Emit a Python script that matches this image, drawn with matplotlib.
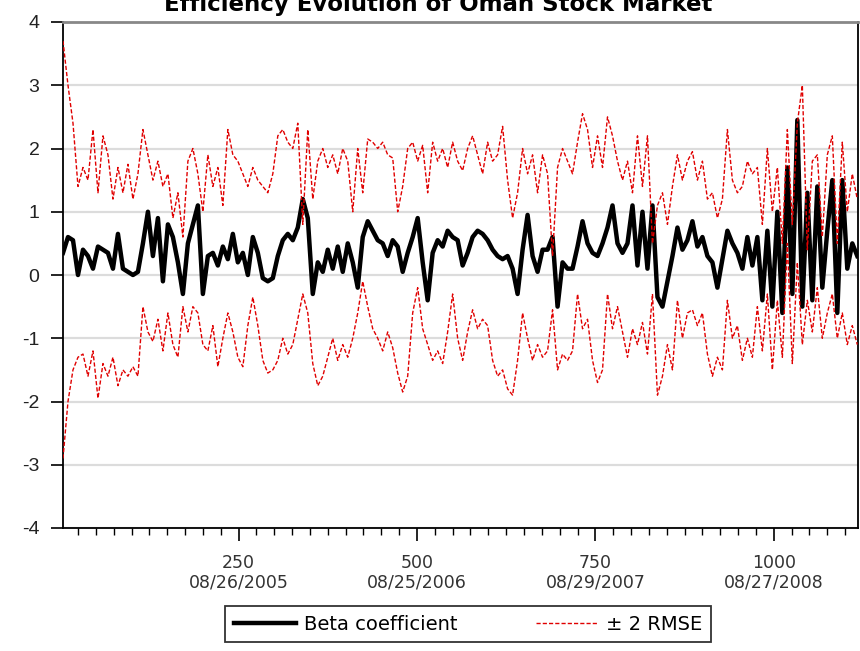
import numpy as np
import matplotlib.pyplot as plt
from matplotlib.ticker import MultipleLocator, FixedLocator

plt.rcParams['font.family'] = ['DejaVu Sans']
plt.rcParams['axes.unicode_minus'] = False

# observation number of the first sample and spacing between samples
start_obs = 4
step_obs = 7

# beta coefficient (black line)
beta = [0.35, 0.6, 0.55, 0.0, 0.4, 0.3, 0.1, 0.45, 0.4, 0.35,
        0.1, 0.65, 0.1, 0.05, 0.0, 0.05, 0.5, 1.0, 0.3, 0.9,
        -0.1, 0.8, 0.6, 0.2, -0.3, 0.5, 0.8, 1.1, -0.3, 0.3,
        0.35, 0.15, 0.45, 0.25, 0.65, 0.2, 0.35, 0.0, 0.6, 0.35,
        -0.05, -0.1, -0.05, 0.3, 0.55, 0.65, 0.55, 0.75, 1.2, 0.9,
        -0.3, 0.2, 0.05, 0.4, 0.1, 0.45, 0.05, 0.5, 0.2, -0.2,
        0.6, 0.85, 0.7, 0.55, 0.5, 0.3, 0.55, 0.45, 0.05, 0.35,
        0.6, 0.9, 0.2, -0.4, 0.35, 0.55, 0.45, 0.7, 0.6, 0.55,
        0.15, 0.35, 0.6, 0.7, 0.65, 0.55, 0.4, 0.3, 0.25, 0.3,
        0.1, -0.3, 0.4, 0.95, 0.3, 0.05, 0.4, 0.4, 0.6, -0.5,
        0.2, 0.1, 0.1, 0.45, 0.85, 0.5, 0.35, 0.3, 0.5, 0.75,
        1.1, 0.5, 0.35, 0.5, 1.1, 0.15, 1.0, 0.1, 1.1, -0.35,
        -0.5, -0.1, 0.3, 0.75, 0.4, 0.55, 0.85, 0.45, 0.6, 0.3,
        0.2, -0.2, 0.25, 0.7, 0.5, 0.35, 0.1, 0.6, 0.15, 0.6,
        -0.4, 0.7, -0.5, 1.0, -0.6, 1.7, -0.3, 2.45, -0.5, 1.3,
        -0.4, 1.4, -0.2, 0.7, 1.5, -0.6, 1.5, 0.1, 0.5, 0.3]

# beta + 2 RMSE (upper red dashed)
upper = [3.7, 3.0, 2.4, 1.4, 1.7, 1.5, 2.3, 1.3, 2.2, 1.9,
         1.2, 1.7, 1.3, 1.75, 1.2, 1.6, 2.3, 1.9, 1.5, 1.8,
         1.4, 1.6, 0.9, 1.3, 0.6, 1.8, 2.0, 1.6, 1.0, 1.9,
         1.4, 1.7, 1.1, 2.3, 1.9, 1.8, 1.6, 1.4, 1.7, 1.5,
         1.4, 1.3, 1.6, 2.2, 2.3, 2.1, 2.0, 2.4, 0.8, 2.3,
         1.2, 1.8, 2.0, 1.7, 1.9, 1.6, 2.0, 1.8, 1.0, 2.0,
         1.3, 2.15, 2.1, 2.0, 2.1, 1.9, 1.85, 1.0, 1.4, 2.0,
         2.1, 1.8, 2.05, 1.3, 2.1, 1.8, 2.0, 1.7, 2.1, 1.8,
         1.65, 2.0, 2.2, 1.9, 1.6, 2.1, 1.8, 1.9, 2.35, 1.5,
         0.9, 1.3, 2.0, 1.6, 1.9, 1.3, 1.9, 1.6, 0.3, 1.7,
         2.0, 1.8, 1.6, 2.1, 2.55, 2.3, 1.7, 2.2, 1.7, 2.5,
         2.2, 1.8, 1.5, 1.8, 1.3, 2.2, 1.4, 2.2, 0.5, 1.1,
         1.3, 0.8, 1.4, 1.9, 1.5, 1.8, 1.95, 1.5, 1.8, 1.2,
         1.3, 0.9, 1.2, 2.3, 1.5, 1.3, 1.4, 1.8, 1.6, 1.7,
         0.8, 2.0, 1.0, 1.7, 0.5, 2.3, 0.8, 2.4, 3.0, 0.4,
         1.8, 1.9, 0.6, 1.9, 2.2, 0.5, 2.1, 1.0, 1.6, 1.2]

# beta - 2 RMSE (lower red dashed)
lower = [-2.9, -2.0, -1.5, -1.3, -1.25, -1.6, -1.2, -1.95, -1.4, -1.6,
         -1.3, -1.75, -1.5, -1.6, -1.45, -1.6, -0.5, -0.9, -1.05, -0.7,
         -1.2, -0.6, -1.1, -1.3, -0.5, -0.9, -0.5, -0.6, -1.1, -1.2,
         -0.8, -1.45, -1.0, -0.6, -0.9, -1.3, -1.45, -0.8, -0.35, -0.8,
         -1.35, -1.55, -1.5, -1.35, -1.0, -1.25, -1.1, -0.7, -0.3, -0.6,
         -1.4, -1.75, -1.6, -1.3, -1.0, -1.35, -1.1, -1.3, -1.0, -0.6,
         -0.1, -0.5, -0.85, -1.0, -1.2, -0.9, -1.15, -1.55, -1.85, -1.6,
         -0.6, -0.2, -0.85, -1.1, -1.35, -1.2, -1.4, -0.9, -0.3, -1.0,
         -1.35, -0.9, -0.55, -0.85, -0.7, -0.8, -1.35, -1.6, -1.5, -1.8,
         -1.9, -1.35, -0.6, -1.0, -1.35, -1.1, -1.3, -1.2, -0.55, -1.5,
         -1.25, -1.35, -1.2, -0.3, -0.85, -0.7, -1.35, -1.7, -1.5, -0.3,
         -0.85, -0.5, -0.9, -1.3, -0.85, -1.1, -0.75, -1.25, -0.3, -1.9,
         -1.6, -1.1, -1.5, -0.4, -1.0, -0.6, -0.55, -0.8, -0.6, -1.25,
         -1.6, -1.3, -1.5, -0.4, -1.0, -0.8, -1.35, -1.0, -1.3, -0.5,
         -1.2, -0.3, -1.5, -0.4, -1.3, 0.5, -1.4, 0.2, -1.1, -0.4,
         -0.9, -0.2, -1.0, -0.6, -0.3, -1.0, -0.6, -1.1, -0.8, -1.1]

tick_obs = [250, 500, 750, 1000]
tick_dates = ['08/26/2005', '08/25/2006', '08/29/2007', '08/27/2008']

x = start_obs + step_obs * np.arange(len(beta))

fig = plt.figure(figsize=(8.6, 6.51), dpi=100)
ax = fig.add_axes([63 / 860, 1 - 528 / 651, 795 / 860, 506 / 651])

# light horizontal grid at every integer
for yv in range(-4, 5):
    ax.axhline(yv, color='#dcdcdc', lw=1.6, zorder=0)

ax.plot(x, beta, color='black', lw=3.2, label='Beta coefficient', zorder=2)
ax.plot(x, upper, color='#e00000', lw=1.0, ls=(0, (3, 1.5)),
        label='± 2 RMSE', zorder=3)
ax.plot(x, lower, color='#e00000', lw=1.0, ls=(0, (3, 1.5)), zorder=3)

ax.set_xlim(4, 1118)
ax.set_ylim(-4, 4)
ax.yaxis.set_major_locator(MultipleLocator(1))
ax.xaxis.set_major_locator(FixedLocator(tick_obs))
ax.xaxis.set_minor_locator(MultipleLocator(25))
ax.set_xticklabels([f'{n}\n{d}' for n, d in zip(tick_obs, tick_dates)])

ax.tick_params(axis='y', direction='out', length=9, width=1.2, labelsize=14,
               pad=8, labelfontfamily='Liberation Sans', labelcolor='#222222')
ax.tick_params(axis='x', which='major', direction='out', length=9, width=1.2,
               labelsize=12.5, pad=10, labelcolor='#333333')
ax.tick_params(axis='x', which='minor', direction='out', length=5, width=1)
for lbl in ax.get_xticklabels():
    lbl.set_linespacing(1.1)

ax.spines['left'].set_linewidth(1.3)
ax.spines['bottom'].set_linewidth(1.3)
ax.spines['right'].set_linewidth(1.3)
ax.spines['top'].set_color('#888888')
ax.spines['top'].set_linewidth(2)

fig.text(0.51, 1 - 5 / 651, 'Efficiency Evolution of Oman Stock Market',
         ha='center', va='center', fontsize=16.5, fontweight='bold')

leg = fig.legend(loc='center', bbox_to_anchor=(468 / 860, 1 - 624 / 651),
                 ncol=2, fontsize=14, frameon=True, fancybox=False,
                 edgecolor='black', handlelength=3.2, columnspacing=4,
                 borderpad=0.45, handletextpad=0.4)
leg.get_frame().set_linewidth(1.3)

fig.savefig('out.png', dpi=100)
